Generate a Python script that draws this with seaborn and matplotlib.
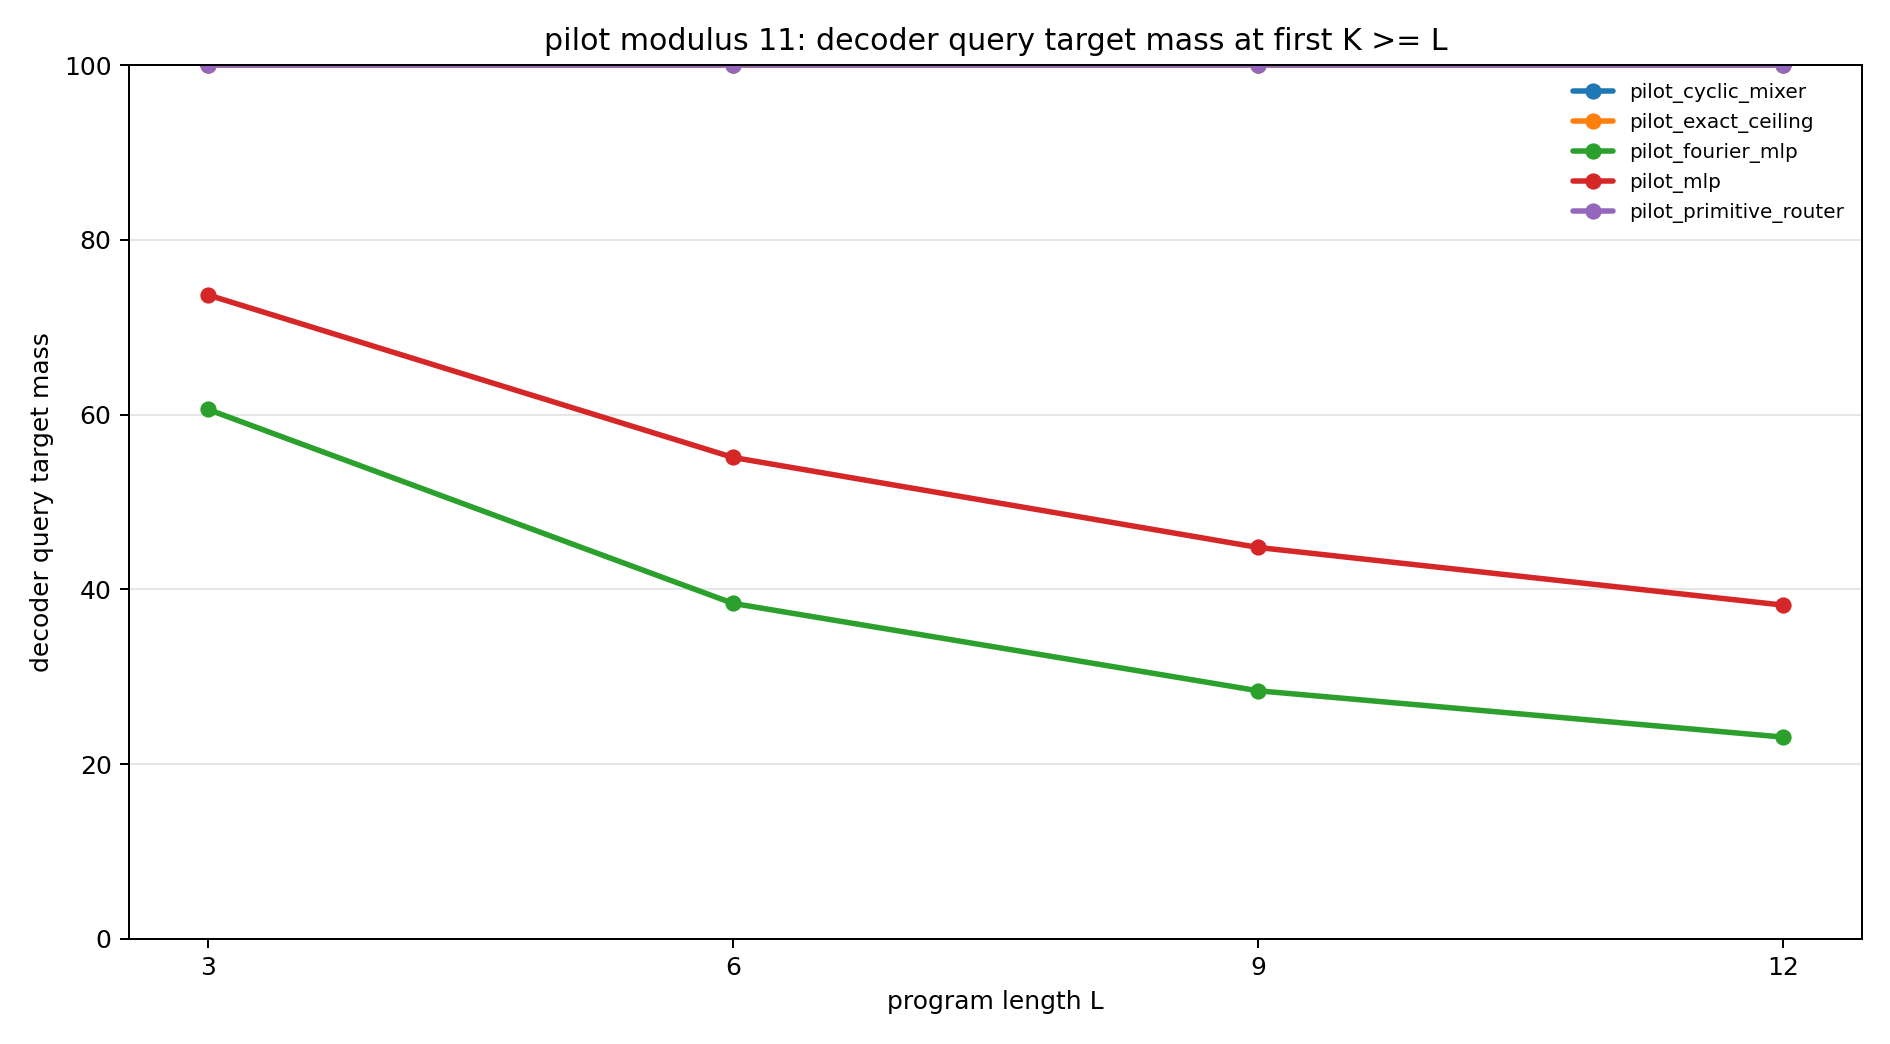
import pandas as pd
import matplotlib
matplotlib.use("Agg")
import matplotlib.pyplot as plt
import seaborn as sns

# program lengths and target mass per model (percent)
lengths = [3, 6, 9, 12]
models = ["pilot_cyclic_mixer", "pilot_exact_ceiling", "pilot_fourier_mlp",
          "pilot_mlp", "pilot_primitive_router"]
cyclic_mixer = [100.0, 100.0, 100.0, 100.0]
exact_ceiling = [100.0, 100.0, 100.0, 100.0]
fourier_mlp = [60.6, 38.4, 28.4, 23.1]
mlp = [73.7, 55.1, 44.8, 38.2]
primitive_router = [100.0, 100.0, 100.0, 100.0]

series = [cyclic_mixer, exact_ceiling, fourier_mlp, mlp, primitive_router]
rows = []
for name, vals in zip(models, series):
    for L, v in zip(lengths, vals):
        rows.append({"model": name, "L": L, "mass": v})
df = pd.DataFrame(rows)

sns.set_style("white")
plt.rcParams["font.family"] = ["DejaVu Sans"]
for key in ["text.color", "axes.labelcolor", "xtick.color", "ytick.color"]:
    plt.rcParams[key] = "black"

fig, ax = plt.subplots(figsize=(10.5, 5.8), dpi=180)
sns.lineplot(data=df, x="L", y="mass", hue="model", hue_order=models,
             palette=sns.color_palette("tab10", 5), marker="o",
             markersize=6.5, markeredgewidth=0, linewidth=2.2, ax=ax)

ax.set_ylim(0, 100)
ax.set_xticks(lengths)
ax.set_yticks([0, 20, 40, 60, 80, 100])
ax.tick_params(axis="both", direction="out", length=3.5, width=0.8,
               labelsize=10, left=True, bottom=True, colors="black")
ax.grid(axis="y", color="#e6e6e6", linewidth=0.8)
ax.set_axisbelow(True)
for s in ax.spines.values():
    s.set_visible(True)
    s.set_color("black")
    s.set_linewidth(0.8)

ax.set_title("pilot modulus 11: decoder query target mass at first K >= L", fontsize=12)
ax.set_xlabel("program length L", fontsize=10)
ax.set_ylabel("decoder query target mass", fontsize=10)

handles, labels = ax.get_legend_handles_labels()
ax.legend(handles, labels, loc="upper right", frameon=False, fontsize=8)

fig.subplots_adjust(left=0.0683, right=0.9852, top=0.9377, bottom=0.1006)
fig.savefig("out.png", dpi=180)
